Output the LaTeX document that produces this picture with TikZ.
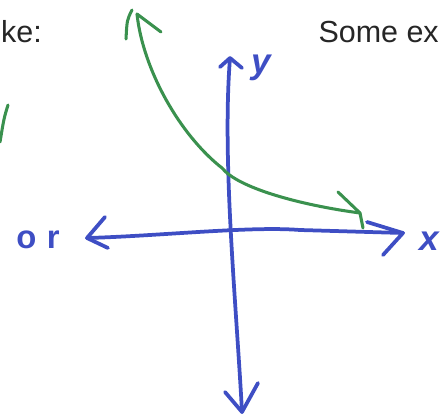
\documentclass[tikz,border=0pt]{standalone}
\usepackage{fontspec}
\setmainfont{Liberation Sans}
\definecolor{pen}{RGB}{62,78,196}
\definecolor{marker}{RGB}{58,145,78}
\definecolor{slide}{RGB}{38,38,38}

\begin{document}
\begin{tikzpicture}[x=0.03cm, y=-0.03cm, line cap=round, line join=round,
    axisline/.style={pen, line width=3.2pt},
    graphline/.style={marker, line width=2.6pt},
    slidetext/.style={slide, inner sep=0pt, font=\fontsize{26}{30}\selectfont},
    handtext/.style={pen, inner sep=0pt, font=\bfseries\itshape\fontsize{30}{32}\selectfont}]
  \useasboundingbox (0,0) rectangle (440,417);
  \clip (0,0) rectangle (440,417);
  \coordinate (T) at (230,58);
  \coordinate (Bt) at (242,412);
  \coordinate (L) at (87,238);
  \coordinate (R) at (403,233);
  \coordinate (G1) at (137,14);
  \coordinate (G2) at (222,168);
  \coordinate (GR) at (360,213);
  % axes
  \draw[axisline] (T) .. controls (222,160) and (236,300) .. (Bt);
  \draw[axisline] (L) .. controls (160,236) and (250,226) .. (300,230) -- (R);
  \draw[axisline] (220,67) -- (T) -- (242,68);
  \draw[axisline] (225,392) -- (Bt) -- (258,383);
  \draw[axisline] (105,217) -- (L) -- (108,248);
  \draw[axisline] (367,222) -- (R) -- (383,255);
  % green graph
  \draw[graphline] (G1) .. controls (143,70) and (180,135) .. (G2)
    .. controls (238,188) and (300,205) .. (GR);
  \draw[graphline] (132,10) .. controls (127,20) .. (126,39);
  \draw[graphline] (G1) -- (161,32);
  \draw[graphline] (338,192) -- (GR) -- (363,228);
  \draw[graphline] (8,105) .. controls (4,118) .. (0,142);
  % labels
  \node[handtext] (ylab) at (261,68) {y};
  \node[handtext] (xlab) at (429,241) {x};
  \node[handtext, font=\bfseries\fontsize{28}{30}\selectfont] (orlab) at (38,240) {o\kern9pt r};
  \node[slidetext, anchor=base west] (kelab) at (1,42) {ke:};
  \node[slidetext, anchor=base east] (somelab) at (439,42) {Some ex};
\end{tikzpicture}
\end{document}
